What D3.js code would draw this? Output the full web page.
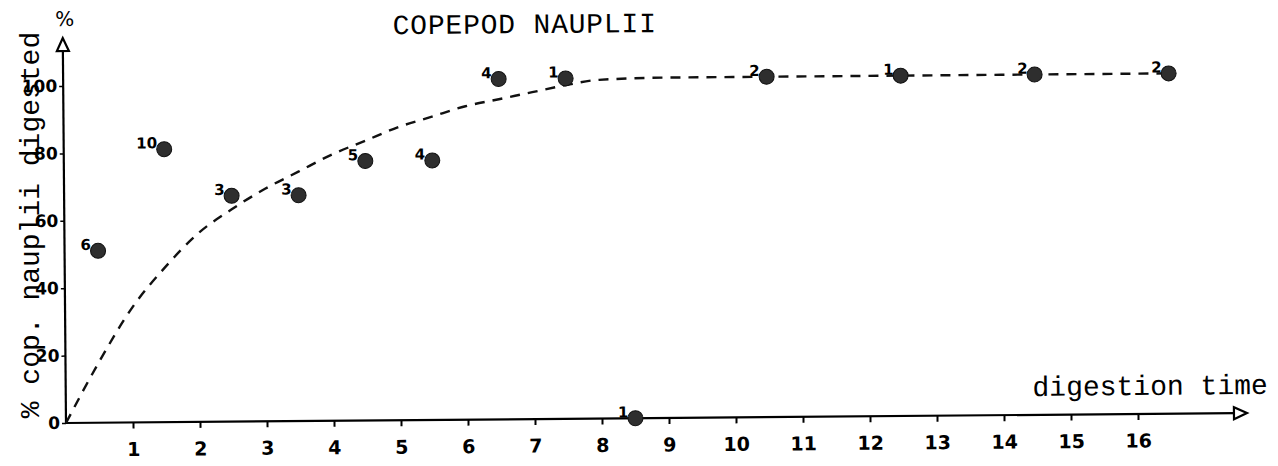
<!DOCTYPE html>
<html>
<head>
<meta charset="utf-8">
<script src="https://cdn.jsdelivr.net/npm/d3@7"></script>
<style>
	body { margin: 0; background: #fff; }
	svg { display: block; }
	.mono { font-family: "Liberation Mono", "DejaVu Sans Mono", monospace; }
	.tick text { font-family: "DejaVu Sans", sans-serif; font-weight: bold; }
</style>
</head>
<body>
<svg id="chart" width="1278" height="466"></svg>
<script>
// digestion time (h) of each sample, % digested, and number of guts examined
var times = [0.5, 1.5, 2.5, 3.5, 4.5, 5.5, 6.5, 7.5, 8.5, 10.5, 12.5, 14.5, 16.5];
var digested = [51, 81, 67, 67, 77, 77, 101, 101, 0, 101, 101, 101, 101];
var counts = ["6", "10", "3", "3", "5", "4", "4", "1", "1", "2", "1", "2", "2"];

// fitted curve
var curveX = [0, 0.5, 1, 1.5, 2, 2.5, 3, 3.5, 4, 4.5, 5, 5.5, 6, 6.5, 7, 7.5, 8, 9, 10, 12, 14, 16.5];
var curveY = [0, 18, 34, 46, 56, 63, 69, 74, 79, 83, 87, 90, 93, 95, 97, 99, 100.5, 101, 101, 101, 101, 101];

var xTicks = d3.range(1, 17);
var yTicks = [0, 20, 40, 60, 80, 100];

document.addEventListener("DOMContentLoaded", init)

function init() {
	var svg = d3.select("#chart");

	var x = d3.scaleLinear().domain([0, 16]).range([66, 1138]);
	var y = d3.scaleLinear().domain([0, 100]).range([423, 86]);

	// the scanned figure is tilted a little
	var g = svg.append("g")
	  .attr("transform", "rotate(-0.48," + x(0) + "," + y(0) + ")");

	// axes
	var xAxis = g.append("g")
	  .attr("transform", "translate(0," + y(0) + ")")
	  .call(d3.axisBottom(x).tickValues(xTicks).tickSize(6).tickPadding(14));
	xAxis.select(".domain").remove();
	xAxis.selectAll(".tick line").attr("stroke-width", 2);
	xAxis.selectAll(".tick text").style("font-size", "19px");

	var yAxis = g.append("g")
	  .attr("transform", "translate(" + x(0) + ",0)")
	  .call(d3.axisLeft(y).tickValues(yTicks).tickSize(4).tickPadding(2));
	yAxis.select(".domain").remove();
	yAxis.selectAll(".tick line").attr("stroke-width", 1.5);
	yAxis.selectAll(".tick text").style("font-size", "17px");

	var xEnd = x.invert(1247);
	var yEnd = y.invert(38);

	g.append("line")
	  .attr("x1", x(0)).attr("y1", y(0))
	  .attr("x2", x(xEnd) - 12).attr("y2", y(0))
	  .attr("stroke", "#000").attr("stroke-width", 2.2);
	g.append("line")
	  .attr("x1", x(0)).attr("y1", y(0))
	  .attr("x2", x(0)).attr("y2", y(yEnd) + 12)
	  .attr("stroke", "#000").attr("stroke-width", 2.2);

	// open arrow heads
	var xa = x(xEnd), ya = y(0);
	g.append("path")
	  .attr("d", "M" + xa + "," + ya + "L" + (xa - 13) + "," + (ya - 6) + "L" + (xa - 13) + "," + (ya + 6) + "Z")
	  .attr("fill", "#fff").attr("stroke", "#000").attr("stroke-width", 2.2);
	var xb = x(0), yb = y(yEnd);
	g.append("path")
	  .attr("d", "M" + xb + "," + yb + "L" + (xb - 6) + "," + (yb + 13) + "L" + (xb + 6) + "," + (yb + 13) + "Z")
	  .attr("fill", "#fff").attr("stroke", "#000").attr("stroke-width", 2.2);

	// dashed fitted curve
	var line = d3.line()
	  .x(function(d) { return x(d[0]); })
	  .y(function(d) { return y(d[1]); })
	  .curve(d3.curveMonotoneX);
	g.append("path")
	  .datum(d3.zip(curveX, curveY))
	  .attr("d", line)
	  .attr("fill", "none")
	  .attr("stroke", "#111")
	  .attr("stroke-width", 2.4)
	  .attr("stroke-dasharray", "10,8");

	// points and counts
	var pts = g.selectAll(".pt")
	  .data(d3.range(times.length))
	  .enter()
	  .append("g")
	  .attr("class", "pt")
	  .attr("transform", function(i) { return "translate(" + x(times[i]) + "," + y(digested[i]) + ")"; });
	pts.append("circle")
	  .attr("r", 7.5)
	  .attr("fill", "#2e2e2e")
	  .attr("stroke", "#111")
	  .attr("stroke-width", 1);
	pts.append("text")
	  .attr("x", -7)
	  .attr("y", -1)
	  .attr("text-anchor", "end")
	  .style("font-family", "DejaVu Sans, sans-serif")
	  .style("font-weight", "bold")
	  .style("font-size", "15px")
	  .text(function(i) { return counts[i]; });

	// titles
	g.append("text")
	  .attr("class", "mono")
	  .attr("x", 528).attr("y", 37)
	  .attr("text-anchor", "middle")
	  .style("font-size", "28px")
	  .style("letter-spacing", "0.8px")
	  .text("COPEPOD NAUPLII");

	g.append("text")
	  .attr("class", "mono")
	  .attr("x", 1268).attr("y", 404)
	  .attr("text-anchor", "end")
	  .style("font-size", "28px")
	  .text("digestion time");

	g.append("text")
	  .attr("x", x(0) + 2).attr("y", 26)
	  .attr("text-anchor", "middle")
	  .style("font-family", "DejaVu Sans, sans-serif")
	  .style("font-size", "20px")
	  .text("%");

	svg.append("text")
	  .attr("class", "mono")
	  .attr("transform", "translate(39,225) rotate(-90)")
	  .attr("text-anchor", "middle")
	  .style("font-size", "28px")
	  .text("% cop. nauplii digested");
}
</script>
</body>
</html>
